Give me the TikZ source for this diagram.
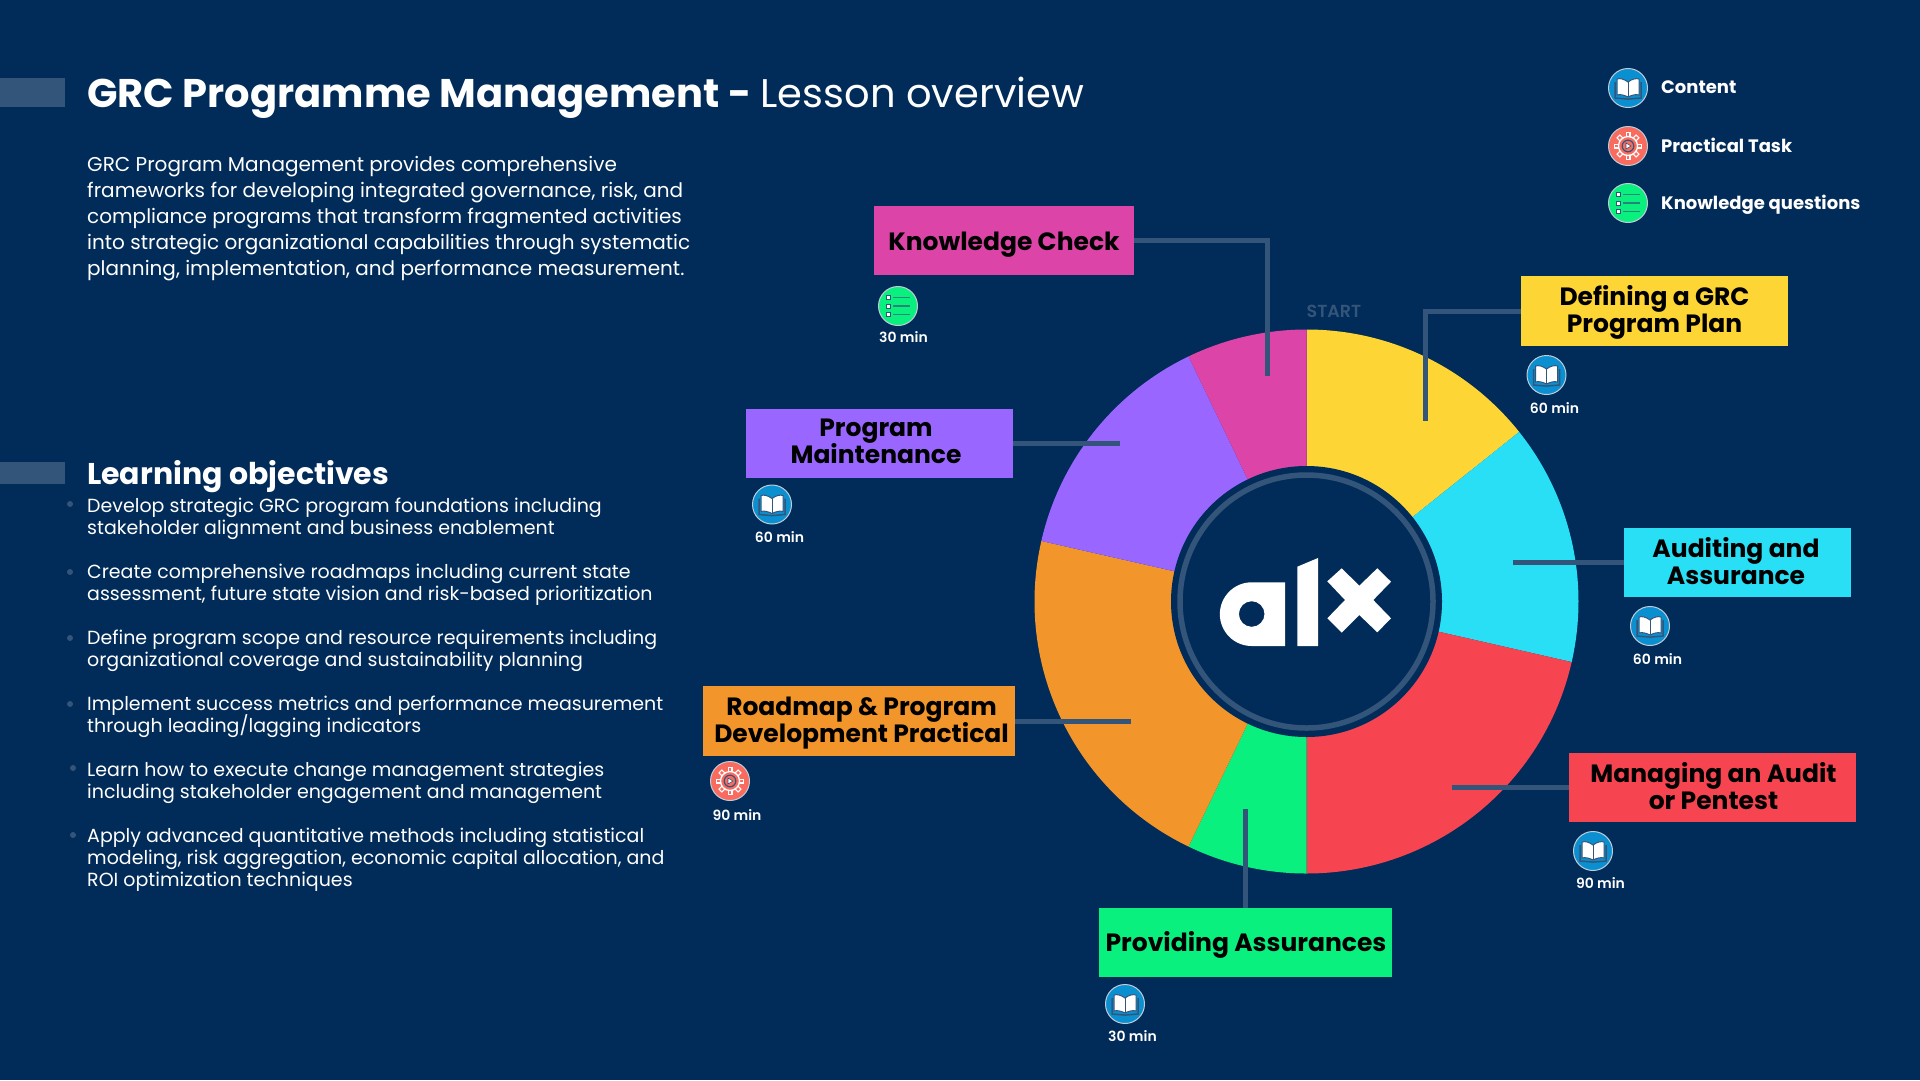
\documentclass[tikz,border=0pt]{standalone}
\usepackage{fontspec}
\setmainfont{Poppins}
\newfontfamily\semifont{Poppins SemiBold}
\usepackage{xcolor}
\definecolor{navyBg}{HTML}{012B58}
\definecolor{slateLine}{HTML}{34557A}
\definecolor{bookBlue}{HTML}{0A8FD0}
\definecolor{gearCoral}{HTML}{F96B5F}
\definecolor{listGreen}{HTML}{09F07F}
\definecolor{sliceYellow}{HTML}{FDD535}
\definecolor{sliceCyan}{HTML}{28DFF5}
\definecolor{sliceRed}{HTML}{F64551}
\definecolor{sliceOrange}{HTML}{F2952A}
\definecolor{slicePurple}{HTML}{9966FF}
\definecolor{sliceMagenta}{HTML}{DD44A8}
\newcommand{\fsize}[2]{\fontsize{#1}{#2}\selectfont\lineskiplimit=-100pt}
\newcommand{\nudge}[1]{\hspace*{#1pt}}
\tikzset{
	labelBox/.style={minimum height=69.5, inner sep=0pt, align=center, text=black, font=\fsize{25}{27}\bfseries, text height=44.5, text depth=0},
	oneLine/.style={text height=19.5, text depth=0},
	connLine/.style={draw=slateLine, line width=5},
	timeText/.style={text=white, font=\fsize{14}{16}\semifont, inner sep=0pt},
	legendText/.style={text=white, font=\fsize{18}{20}\bfseries, inner sep=0pt, anchor=west},
	bodyText/.style={text=white, align=left, inner sep=0pt, anchor=north west},
	objText/.style={bodyText, font=\fsize{19}{22}},
	dotMark/.style={circle, fill=slateLine, inner sep=0pt, minimum size=6},
	iconDisc/.style={circle, draw=white!70!slateLine, line width=1, minimum size=39, inner sep=0pt},
	iconbook/.pic={
		\node[iconDisc, fill=bookBlue] (-disc) at (0,0) {};
		\draw[fill=white, draw=slateLine, line width=1] (0,-6) .. controls (-4,-9) and (-8,-10) .. (-11,-9) -- (-11,7) .. controls (-8,6) and (-4,7) .. (0,9) .. controls (4,7) and (8,6) .. (11,7) -- (11,-9) .. controls (8,-10) and (4,-9) .. (0,-6) -- cycle;
		\draw[slateLine, line width=1] (0,-6) -- (0,9);
		\draw[slateLine, line width=1.5] (-13,-6) -- (-13,10) -- (-1,11) -- (1,11) -- (13,10) -- (13,-6);
	},
	icongear/.pic={
		\node[iconDisc, fill=gearCoral] (-disc) at (0,0) {};
		\foreach \tooth in {0,45,...,315}
			\draw[white, line width=5] (\tooth:-8) -- (\tooth:-14);
		\foreach \tooth in {0,45,...,315}
			\draw[gearCoral, line width=2.6] (\tooth:-8) -- (\tooth:-12.8);
		\draw[fill=gearCoral, draw=white, line width=1.3] (0,0) circle[radius=9.5];
		\draw[slateLine, line width=1.2] (0,0) circle[radius=5.8];
		\draw[fill=white, draw=slateLine, line width=0.6] (-2,-3) -- (3,0) -- (-2,3) -- cycle;
	},
	iconlist/.pic={
		\node[iconDisc, fill=listGreen] (-disc) at (0,0) {};
		\foreach \row in {-8.3,0,8.3} {
			\draw[fill=white, draw=slateLine, line width=1] (-12,\row-2) rectangle (-8,\row+2);
			\draw[slateLine!70!listGreen, line width=1.2] (-5,\row) -- (12,\row);
		}
	},
}
\begin{document}
\begin{tikzpicture}[x=1pt, y=-1pt]
	\fill[navyBg] (0,0) rectangle (1920,1080);
	\useasboundingbox (0,0) rectangle (1920,1080);

	% side bars
	\fill[slateLine] (0,78) rectangle (64.5,107);
	\fill[slateLine] (0,462) rectangle (64.5,484);

	% heading and intro
	\node[bodyText, anchor=base west, font=\fsize{40}{44}] (title) at (87,107) {\textbf{GRC Programme Management -} \hspace{-1.2pt}Lesson overview};
	\node[bodyText, font=\fsize{20}{26}] (intro) at (87,156) {GRC Program Management provides comprehensive\\frameworks for developing integrated governance, risk, and\\compliance programs that transform fragmented activities\\into strategic organizational capabilities through systematic\\planning, implementation, and performance measurement.};

	% objectives
	\node[bodyText, anchor=base west, font=\fsize{30}{32}\bfseries] (objHead) at (87,484) {Learning objectives};
	\node[objText] (obj1) at (87,498) {Develop strategic GRC program foundations including\\stakeholder alignment and business enablement};
	\node[objText] (obj2) at (87,564) {Create comprehensive roadmaps including current state\\assessment, future state vision and risk-based prioritization};
	\node[objText] (obj3) at (87,630) {Define program scope and resource requirements including\\organizational coverage and sustainability planning};
	\node[objText] (obj4) at (87,696) {Implement success metrics and performance measurement\\through leading/lagging indicators};
	\node[objText] (obj5) at (87,762) {Learn how to execute change management strategies\\including stakeholder engagement and management};
	\node[objText] (obj6) at (87,828) {Apply advanced quantitative methods including statistical\\modeling, risk aggregation, economic capital allocation, and\\ROI optimization techniques};
	\node[dotMark] (dot1) at (70,504) {};
	\node[dotMark] (dot2) at (70,572) {};
	\node[dotMark] (dot3) at (70,638) {};
	\node[dotMark] (dot4) at (70,704) {};
	\node[dotMark] (dot5) at (73,768) {};
	\node[dotMark] (dot6) at (73,835) {};

	% legend
	\pic (legBook) at (1628,88) {iconbook};
	\pic (legGear) at (1628,146) {icongear};
	\pic (legList) at (1628,203) {iconlist};
	\node[legendText] (legA) at (1661,87) {Content};
	\node[legendText] (legB) at (1661,145.5) {Practical Task};
	\node[legendText] (legC) at (1661,204.5) {Knowledge questions};

	% wheel, slices follow the minutes
	\begin{scope}[shift={(1306.5,601.5)}, x=1pt, y=1pt]
		\foreach \from/\to/\slice in {90/38.57/sliceYellow, 38.57/-12.86/sliceCyan, -12.86/-90/sliceRed, -90/-115.71/listGreen, -115.71/-192.86/sliceOrange, -192.86/-244.29/slicePurple, -244.29/-270/sliceMagenta}
			\fill[\slice] (0,0) -- (\from:272) arc[start angle=\from, end angle=\to, radius=272] -- cycle;
	\end{scope}
	\node[text=slateLine, font=\fsize{17.5}{18}\semifont, inner sep=0pt] (start) at (1334,311) {START};

	% boxes
	\node[labelBox, oneLine, fill=sliceMagenta, minimum width=260] (check) at (1004,240.5) {Knowledge Check};
	\node[labelBox, text height=42, fill=sliceYellow, minimum width=267] (plan) at (1654.5,311) {Defining a GRC\\Program Plan};
	\node[labelBox, fill=sliceCyan, minimum width=227] (audit) at (1737.5,562.5) {Auditing and\nudge{3}\\Assurance\nudge{3}};
	\node[labelBox, fill=sliceRed, minimum width=287] (pentest) at (1712.5,787.5) {\nudge{2}Managing an Audit\\\nudge{2}or Pentest};
	\node[labelBox, oneLine, text height=17.5, fill=listGreen, minimum width=293] (assure) at (1245,942.5) {\nudge{2}Providing Assurances};
	\node[labelBox, text height=42, fill=sliceOrange, minimum width=312] (roadmap) at (859,721) {\nudge{5}Roadmap \& Program\\\nudge{5}Development Practical};
	\node[labelBox, text height=39.5, fill=slicePurple, minimum width=267] (maint) at (879.5,443.5) {Program\nudge{7}\\Maintenance\nudge{7}};

	% connector ends in the slices
	\coordinate (checkEnd) at (1267,376);
	\coordinate (planEnd) at (1425,421);
	\coordinate (auditEnd) at (1513,562.5);
	\coordinate (pentestEnd) at (1452,787.5);
	\coordinate (assureEnd) at (1245,809);
	\coordinate (roadmapEnd) at (1131,721);
	\coordinate (maintEnd) at (1120,443.5);

	\draw[connLine] (check.east) -| (checkEnd);
	\draw[connLine] (plan.west) -| (planEnd);
	\draw[connLine] (audit.west) -- (auditEnd);
	\draw[connLine] (pentest.west) -- (pentestEnd);
	\draw[connLine] (assure.north) -- (assureEnd);
	\draw[connLine] (roadmap.east) -- (roadmapEnd);
	\draw[connLine] (maint.east) -- (maintEnd);

	% hub and logo
	\node[circle, fill=navyBg, minimum size=271, inner sep=0pt] (hub) at (1306.5,601.5) {};
	\draw[slateLine, line width=5.5] (hub.center) circle[radius=126.5];
	\fill[white, even odd rule] (1251.7,582.3) -- (1285,582.3) -- (1285,646) -- (1251.7,646) arc[start angle=90, end angle=270, radius=31.85] -- cycle (1251.7,614) circle[radius=12.8];
	\fill[white] (1297.3,566.7) -- (1318,558) -- (1318,646) -- (1297.3,646) -- cycle;
	\fill[white] (1327.3,581.3) -- (1341.7,568.3) -- (1359.3,585.7) -- (1377.3,568.3) -- (1391,581.7) -- (1373.3,600) -- (1391,618.3) -- (1377.3,632.3) -- (1359.3,615) -- (1341.7,632.7) -- (1327.3,618.3) -- (1345,600) -- cycle;

	% icons and times
	\pic (icoCheck) at (898,306) {iconlist};
	\pic (icoPlan) at (1546.5,375) {iconbook};
	\pic (icoAudit) at (1650,626) {iconbook};
	\pic (icoPentest) at (1593,851) {iconbook};
	\pic (icoAssure) at (1125,1004) {iconbook};
	\pic (icoRoadmap) at (730,781) {icongear};
	\pic (icoMaint) at (772,504.5) {iconbook};
	\node[timeText] (timeCheck) at (903.5,337) {30 min};
	\node[timeText] (timePlan) at (1554.5,408) {60 min};
	\node[timeText] (timeAudit) at (1657.5,659) {60 min};
	\node[timeText] (timePentest) at (1600.5,883) {90 min};
	\node[timeText] (timeAssure) at (1132.5,1036) {30 min};
	\node[timeText] (timeRoadmap) at (737,815) {90 min};
	\node[timeText] (timeMaint) at (779.5,537) {60 min};
\end{tikzpicture}
\end{document}
